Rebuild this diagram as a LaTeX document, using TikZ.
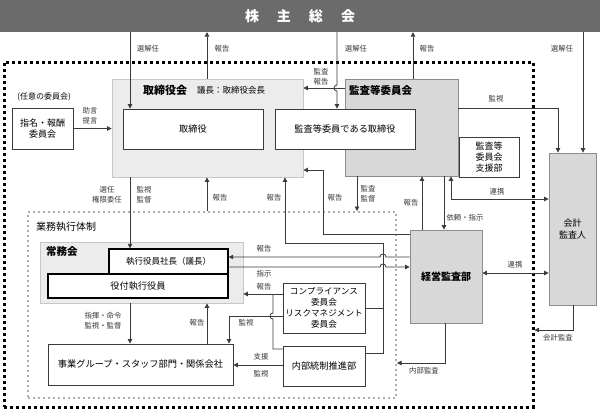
\documentclass[tikz,border=0pt]{standalone}
\usepackage{fontspec}
\setmainfont{Noto Sans CJK JP}
\usetikzlibrary{arrows.meta,calc}
\definecolor{bannerc}{HTML}{6B6B6B}
\definecolor{lg}{HTML}{ECECEC}
\definecolor{mg}{HTML}{D8D8D8}
\definecolor{lnc}{HTML}{3A3A3A}
\definecolor{lbl}{HTML}{383838}
\tikzset{
 box/.style={draw=lnc, line width=0.9pt, fill=white, inner sep=0pt, align=center, font=\fontsize{9.2}{11}\selectfont},
 thickbox/.style={box, draw=black, line width=1.4pt},
 lightbox/.style={draw=black!22, line width=0.8pt, fill=lg, inner sep=0pt},
 midbox/.style={draw=black!45, line width=0.8pt, fill=mg, inner sep=0pt, align=center},
 conn/.style={draw=lnc, line width=0.8pt},
 arr/.style={conn, -{Triangle[length=4.5pt,width=4.5pt]}},
 darr/.style={conn, {Triangle[length=4.5pt,width=4.5pt]}-{Triangle[length=4.5pt,width=4.5pt]}},
 lab/.style={text=lbl, font=\fontsize{7.4}{10}\selectfont, inner sep=0pt, align=center},
 ttl/.style={font=\bfseries\fontsize{10.5}{12}\selectfont, inner sep=0pt, anchor=west},
}
\begin{document}
\begin{tikzpicture}[x=1pt,y=-1pt]
\useasboundingbox (0,0) rectangle (600,416);
\fill[white] (0,0) rectangle (600,416);

% banner
\node[fill=bannerc, minimum width=600pt, minimum height=32pt, inner sep=0pt, text=white, font=\bfseries\fontsize{14}{14}\selectfont] (banner) at (300,16) {株\hspace{18pt}主\hspace{18pt}総\hspace{18pt}会};

% frames
\node[draw=black, line width=3pt, dash pattern=on 3pt off 3pt, minimum width=529pt, minimum height=345pt, inner sep=0pt] (outer) at (268.5,234.5) {};
\node[draw=black!32, line width=2pt, dash pattern=on 2pt off 3pt, minimum width=368pt, minimum height=186pt, inner sep=0pt] (inner) at (212,305) {};
\node[font=\fontsize{10}{12}\selectfont, anchor=west, inner sep=0pt] (gyomu) at (36,227) {業務執行体制};

% board
\node[lightbox, minimum width=191pt, minimum height=98pt] (tkk) at (207.5,128) {};
\node[ttl, font=\bfseries\fontsize{11}{12}\selectfont] (tkkt) at (143,90) {取締役会};
\node[font=\fontsize{8.5}{10}\selectfont, anchor=west, inner sep=0pt] (gicho) at (197,90) {議長：取締役会長};
\node[midbox, minimum width=113pt, minimum height=97pt] (akk) at (401.5,127.5) {};
\node[ttl] (akkt) at (349,90) {監査等委員会};
\node[box, minimum width=140pt, minimum height=40pt] (tk) at (193,129) {取締役};
\node[box, minimum width=140pt, minimum height=40pt] (akt) at (345,129) {監査等委員である取締役};
\node[box, minimum width=60pt, minimum height=40pt, font=\fontsize{9}{11}\selectfont] (shien) at (489,157) {監査等\\委員会\\支援部};
\node[midbox, minimum width=47pt, minimum height=152pt, font=\fontsize{9}{12}\selectfont] (kaikei) at (572.5,229) {会計\\監査人};
\node[box, minimum width=61pt, minimum height=41pt, font=\fontsize{9}{11}\selectfont] (shimei) at (42.5,128.5) {指名・報酬\\委員会};
\node[font=\fontsize{8}{10}\selectfont, inner sep=0pt] (nini) at (44,97) {(任意の委員会)};

% execution
\node[lightbox, minimum width=203pt, minimum height=61pt] (jmk) at (141.5,272.5) {};
\node[ttl] (jmkt) at (46,252) {常務会};
\node[thickbox, minimum width=119pt, minimum height=25pt, font=\fontsize{8.5}{10}\selectfont] (pres) at (168.5,261.5) {執行役員社長（議長）};
\node[thickbox, minimum width=180pt, minimum height=24pt] (yaku) at (138,286) {役付執行役員};
\node[box, minimum width=185pt, minimum height=41pt] (jigyo) at (140.5,364.5) {事業グループ・スタッフ部門・関係会社};
\node[box, minimum width=82pt, minimum height=50pt, font=\fontsize{8.6}{11}\selectfont] (comp) at (324,308) {コンプライアンス\\委員会\\リスクマネジメント\\委員会};
\node[box, minimum width=82pt, minimum height=40pt] (ict) at (324,366) {内部統制推進部};
\node[midbox, minimum width=72pt, minimum height=93pt, font=\bfseries\fontsize{10}{12}\selectfont] (kas) at (446,276.5) {経営監査部};

% helper coordinates
\coordinate (xA) at (130,0); \coordinate (xB) at (207,0); \coordinate (xC) at (337,0);
\coordinate (xD) at (413,0); \coordinate (xE) at (583,0); \coordinate (xF) at (558,0);
\coordinate (xG) at (451,0); \coordinate (xH) at (444,0); \coordinate (xI) at (422,0);
\coordinate (xJ) at (357,0); \coordinate (xK) at (323,0); \coordinate (xL) at (285,0);
\coordinate (xM) at (383,0); \coordinate (xN) at (273,0); \coordinate (xO) at (229,0);
\coordinate (xP) at (445,0); \coordinate (xQ) at (573,0);
\coordinate (yA) at (0,88); \coordinate (yB) at (0,108); \coordinate (yC) at (0,199);
\coordinate (yD) at (0,234); \coordinate (yE) at (0,170); \coordinate (yF) at (0,243);
\coordinate (yG) at (0,257); \coordinate (yH) at (0,267); \coordinate (yI) at (0,294);
\coordinate (yJ) at (0,316); \coordinate (yK) at (0,349); \coordinate (yL) at (0,353);
\coordinate (yM) at (0,365); \coordinate (yN) at (0,273); \coordinate (yO) at (0,363);
\coordinate (yP) at (0,330);
\coordinate (h1) at (xC |- yA);
\coordinate (h2) at (xM |- yG);
\coordinate (h3) at (xM |- yH);
\coordinate (h4) at (xN |- yJ);

% connectors
\draw[arr] (banner.south -| xA) -- (tk.north -| xA);
\draw[arr] (tkk.north -| xB) -- (banner.south -| xB);
\draw[arr] (banner.south -| xC) -- ($(h1)+(0,-3)$) .. controls ($(h1)+(-4,-3)$) and ($(h1)+(-4,3)$) .. ($(h1)+(0,3)$) -- (akt.north -| xC);
\draw[arr] (akk.west |- yA) -- (tkk.east |- yA);
\draw[arr] (akk.north -| xD) -- (banner.south -| xD);
\draw[arr] (banner.south -| xE) -- (kaikei.north -| xE);
\draw[arr] (akk.east |- yB) -| (kaikei.north -| xF);
\draw[darr] (akk.south -| xG) |- (kaikei.west |- yC);
\draw[arr] (akk.south -| xH) -- (kas.north -| xH);
\draw[arr] (kas.north -| xI) -- (akk.south -| xI);
\draw[arr] (akk.south -| xJ) -- (inner.north -| xJ);
\draw[arr] (kas.west |- yD) -| (xK |- yE) -- (tkk.east |- yE);
\draw[arr] (ict.east |- yL) -| (xM |- yF) -| (tkk.south -| xL);
\draw[conn] (comp.east) -- (comp.east -| xM);
\draw[arr] (kas.west |- yG) -- ($(h2)+(3,0)$) .. controls ($(h2)+(3,-4)$) and ($(h2)+(-3,-4)$) .. ($(h2)+(-3,0)$) -- (pres.east |- yG);
\draw[arr] (pres.east |- yH) -- ($(h3)+(-3,0)$) .. controls ($(h3)+(-3,-4)$) and ($(h3)+(3,-4)$) .. ($(h3)+(3,0)$) -- (kas.west |- yH);
\draw[arr] (comp.west |- yI) -- (jmk.east |- yI);
\draw[conn] (ict.west |- yK) -| ($(h4)+(0,3)$) .. controls ($(h4)+(-4,3)$) and ($(h4)+(-4,-3)$) .. ($(h4)+(0,-3)$) -- (xN |- yI);
\draw[arr] (comp.west |- yJ) -| (jigyo.north -| xO);
\draw[arr] (jmk.south -| xA) -- (jigyo.north -| xA);
\draw[arr] (jigyo.north -| xB) -- (jmk.south -| xB);
\draw[arr] (ict.west |- yM) -- (jigyo.east |- yM);
\draw[darr] (kas.east |- yN) -- (kaikei.west |- yN);
\draw[arr] (kas.south -| xP) |- (inner.east |- yO);
\draw[arr] (kaikei.south -| xQ) |- (outer.east |- yP);
\draw[arr] (tkk.south -| xA) -- (pres.north -| xA);
\draw[arr] (inner.north -| xB) -- (tkk.south -| xB);
\draw[arr] (shimei.east) -- (tkk.west |- shimei.east);

% labels
\node[lab] (l1) at (148,49) {選解任};
\node[lab] (l2) at (222,49) {報告};
\node[lab] (l3) at (356,49) {選解任};
\node[lab] (l4) at (427,49) {報告};
\node[lab] (l5) at (562,49) {選解任};
\node[lab] (l6) at (321,77) {監査\\報告};
\node[lab] (l7) at (496,99) {監視};
\node[lab] (l8) at (497,192) {連携};
\node[lab] (l9) at (465,218) {依頼・指示};
\node[lab] (l10) at (411,203) {報告};
\node[lab] (l11) at (368,194) {監査\\監督};
\node[lab] (l12) at (335,198) {報告};
\node[lab] (l13) at (274,198) {報告};
\node[lab] (l14) at (220,198) {報告};
\node[lab] (l15) at (107,195) {選任\\権限委任};
\node[lab] (l16) at (144,195) {監視\\監督};
\node[lab] (l17) at (264,249) {報告};
\node[lab] (l18) at (264,274) {指示};
\node[lab] (l19) at (264,287) {報告};
\node[lab] (l20) at (246,323) {監視};
\node[lab] (l21) at (103,321) {指揮・命令\\監視・監督};
\node[lab] (l22) at (197,323) {報告};
\node[lab] (l23) at (261,357) {支援};
\node[lab] (l24) at (261,374) {監視};
\node[lab] (l25) at (515,265) {連携};
\node[lab] (l26) at (424,371) {内部監査};
\node[lab] (l27) at (558,338) {会計監査};
\node[lab] (l28) at (90,116) {助言\\提言};
\end{tikzpicture}
\end{document}
